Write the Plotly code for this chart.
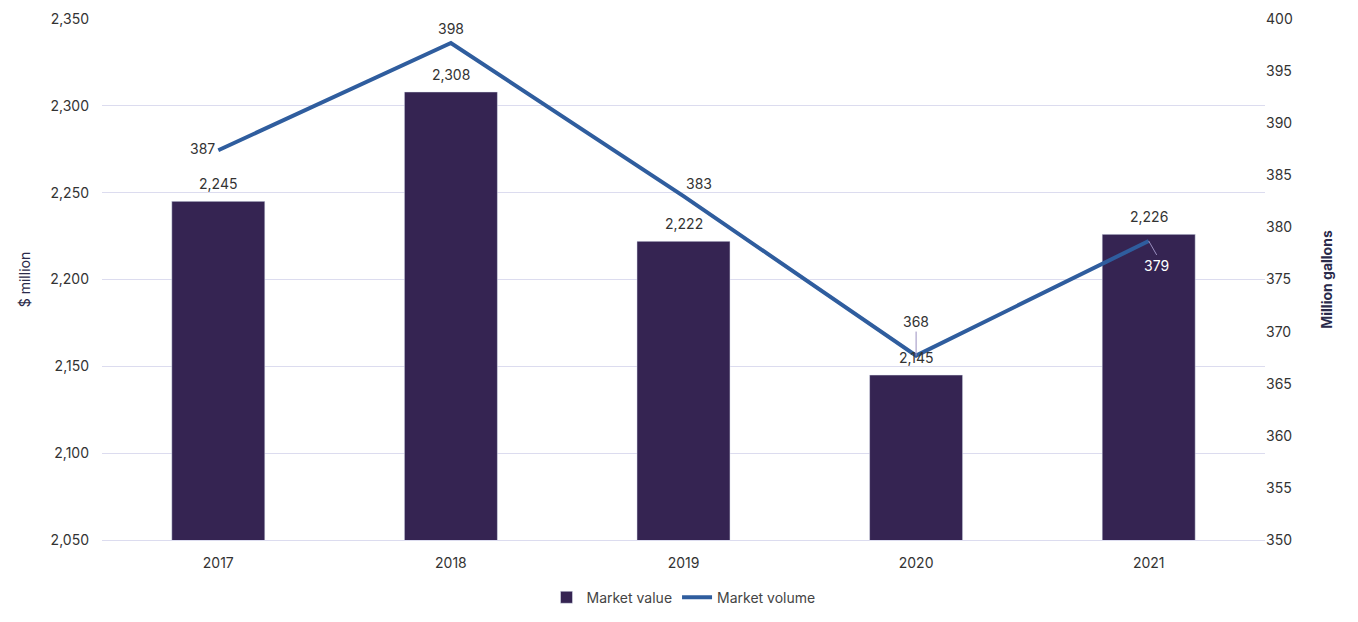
import plotly.graph_objects as go

years = ["2017", "2018", "2019", "2020", "2021"]
market_value = [2245, 2308, 2222, 2145, 2226]
market_volume = [387.4, 397.7, 383.0, 367.7, 378.7]

BAR_COLOR = "#352452"
LINE_COLOR = "#2f5d9e"
TEXT_COLOR = "#333333"
GRID_COLOR = "#dcdcef"
FONT = "Inter, Noto Sans, sans-serif"

fig = go.Figure()

fig.add_trace(
    go.Bar(
        x=years,
        y=market_value,
        name="Market value",
        marker_color=BAR_COLOR,
        width=0.4,
    )
)

fig.add_trace(
    go.Scatter(
        x=years,
        y=market_volume,
        name="Market volume",
        mode="lines",
        line=dict(color=LINE_COLOR, width=4),
        yaxis="y2",
    )
)

# bar value labels, sitting a little above each bar
for i, v in enumerate(market_value):
    fig.add_annotation(
        x=i, y=v, xref="x", yref="y", text=f"{v:,}",
        showarrow=False, yanchor="bottom", yshift=7,
        font=dict(size=14, color=TEXT_COLOR),
    )

# line labels; the two last ones have small leader lines in the original
label_style = [
    dict(showarrow=False, xshift=-1, yshift=2, xanchor="right", yanchor="middle"),
    dict(showarrow=False, xshift=0, yshift=4, xanchor="center", yanchor="bottom"),
    dict(showarrow=False, xshift=0, yshift=2, xanchor="left", yanchor="bottom"),
    dict(showarrow=True, ax=0, ay=-24, xanchor="center", yanchor="bottom"),
    dict(showarrow=True, ax=8, ay=14, xanchor="center", yanchor="top"),
]
for i, v in enumerate(market_volume):
    fig.add_annotation(
        x=i, y=v, xref="x", yref="y2",
        text=f"{v:.0f}",
        arrowhead=0, arrowwidth=1, arrowcolor="#9a8fc0",
        font=dict(size=14, color="white" if i == 4 else TEXT_COLOR),
        **label_style[i],
    )

# page body adds an 8px offset, so the figure is a bit smaller than the window
fig.update_layout(
    width=1350,
    height=614,
    margin=dict(l=94, r=93, t=11, b=82, autoexpand=False),
    plot_bgcolor="white",
    paper_bgcolor="white",
    font=dict(family=FONT, size=14, color=TEXT_COLOR),
    bargap=0.6,
    showlegend=True,
    legend=dict(
        orientation="h", x=0.5, xanchor="center", y=-0.08, yanchor="top",
        font=dict(size=14, color="#444444"),
    ),
    xaxis=dict(
        type="category", range=[-0.5, 4.5],
        showgrid=False, showline=True, linecolor=GRID_COLOR,
        ticks="", tickfont=dict(size=14), ticklabelstandoff=10,
    ),
    yaxis=dict(
        range=[2050, 2350], dtick=50, tickformat=",",
        gridcolor=GRID_COLOR, zeroline=False,
        ticklabelstandoff=12,
        title=dict(text="$ million", font=dict(size=14, color="#2a2a4a"), standoff=16),
        tickfont=dict(size=14),
    ),
    yaxis2=dict(
        range=[350, 400], dtick=5, overlaying="y", side="right",
        showgrid=False, zeroline=False,
        title=dict(text="<b>Million gallons</b>", font=dict(size=14, color="#2a2a4a"), standoff=30),
        tickfont=dict(size=14),
    ),
)

fig.write_html("out.html")
